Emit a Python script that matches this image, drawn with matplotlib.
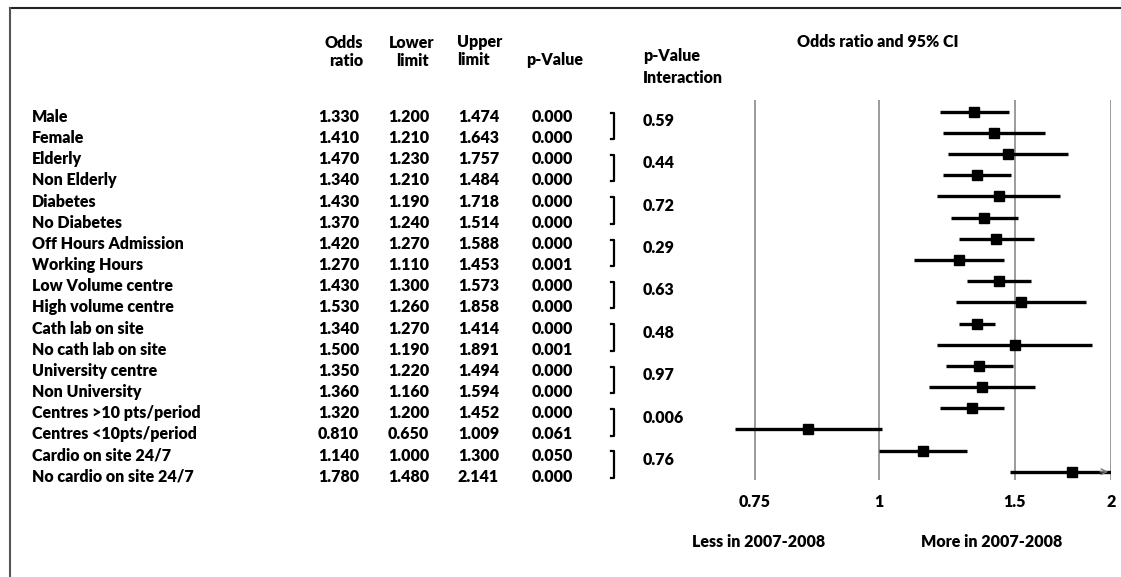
import numpy as np
import matplotlib.pyplot as plt
from matplotlib import transforms
from matplotlib.lines import Line2D

plt.rcParams['font.family'] = ['Lato', 'DejaVu Sans']
plt.rcParams['font.weight'] = 'heavy'

labels = ["Male", "Female", "Elderly", "Non Elderly", "Diabetes", "No Diabetes",
          "Off Hours Admission", "Working Hours", "Low Volume centre",
          "High volume centre", "Cath lab on site", "No cath lab on site",
          "University centre", "Non University", "Centres >10 pts/period",
          "Centres <10pts/period", "Cardio on site 24/7", "No cardio on site 24/7"]
odds = [1.330, 1.410, 1.470, 1.340, 1.430, 1.370, 1.420, 1.270, 1.430,
        1.530, 1.340, 1.500, 1.350, 1.360, 1.320, 0.810, 1.140, 1.780]
lower = [1.200, 1.210, 1.230, 1.210, 1.190, 1.240, 1.270, 1.110, 1.300,
         1.260, 1.270, 1.190, 1.220, 1.160, 1.200, 0.650, 1.000, 1.480]
upper = [1.474, 1.643, 1.757, 1.484, 1.718, 1.514, 1.588, 1.453, 1.573,
         1.858, 1.414, 1.891, 1.494, 1.594, 1.452, 1.009, 1.300, 2.141]
pvals = ["0.000", "0.000", "0.000", "0.000", "0.000", "0.000", "0.000", "0.001", "0.000",
         "0.000", "0.000", "0.001", "0.000", "0.000", "0.000", "0.061", "0.050", "0.000"]
p_inter = ["0.59", "0.44", "0.72", "0.29", "0.63", "0.48", "0.97", "0.006", "0.76"]
ticks = [0.69, 1, 1.5, 2]
tick_labels = ["0.75", "1", "1.5", "2"]

W, H = 1121, 577
fig = plt.figure(figsize=(W / 100, H / 100), dpi=100)

def fx(px):
    return px / W

def fy(py):
    return 1 - py / H

# forest axes, log scale
xmin, xmax = 0.6, 2.0
ax_left, ax_right = 708, 1111
ax_top, ax_bot = 100, 480
ax = fig.add_axes([fx(ax_left), fy(ax_bot), (ax_right - ax_left) / W, (ax_bot - ax_top) / H])
ax.set_xscale('log')
ax.set_xlim(xmin, xmax)
n = len(labels)
row0, drow = 111.7, 21.18
ax.set_ylim((ax_bot - row0) / drow, (ax_top - row0) / drow)
for s in ax.spines.values():
    s.set_visible(False)
ax.set_yticks([])
ax.set_xticks(ticks)
ax.set_xticks([], minor=True)
ax.set_xticklabels(tick_labels, fontsize=11.5, fontweight='heavy')
ax.tick_params(axis='x', length=0, pad=10)
for t in ticks:
    ax.axvline(t, color='#8a8a8a', lw=1.2, zorder=1)

rows = np.arange(n)
for i in rows:
    hi = min(upper[i], xmax)
    ax.plot([lower[i], hi], [i, i], color='black', lw=2.4, solid_capstyle='butt', zorder=3)
    if upper[i] > xmax:
        ax.annotate('', xy=(xmax, i), xytext=(xmax * 0.96, i),
                    arrowprops=dict(arrowstyle='->', color='#777777', lw=1.0), zorder=4)
ax.plot(odds, rows, 's', color='black', markersize=7.5, zorder=5)

# table text in figure-x / data-y coordinates
tr = transforms.blended_transform_factory(fig.transFigure, ax.transData)
toff = 0.24
fs = 11.5
for i in rows:
    y = i + toff
    ax.text(fx(32), y, labels[i], transform=tr, ha='left', va='center', fontsize=fs, clip_on=False)
    ax.text(fx(359), y, f"{odds[i]:.3f}", transform=tr, ha='right', va='center', fontsize=fs, clip_on=False)
    ax.text(fx(429), y, f"{lower[i]:.3f}", transform=tr, ha='right', va='center', fontsize=fs, clip_on=False)
    ax.text(fx(499), y, f"{upper[i]:.3f}", transform=tr, ha='right', va='center', fontsize=fs, clip_on=False)
    ax.text(fx(573), y, pvals[i], transform=tr, ha='right', va='center', fontsize=fs, clip_on=False)

# brackets and interaction p-values
for k, p in enumerate(p_inter):
    r = 2 * k
    y1, y2 = r + toff - 0.2, r + 1 + toff + 0.05
    bx = fx(614)
    ax.add_line(Line2D([bx - fx(3), bx, bx, bx - fx(3)], [y1, y1, y2, y2], transform=tr,
                       color='black', lw=1.6, clip_on=False))
    ax.text(fx(643), r + toff + 0.2, p, transform=tr, ha='left', va='center', fontsize=fs, clip_on=False)

# headers
fig.text(fx(363), fy(52), "Odds\nratio", ha='right', va='center', multialignment='right',
         fontsize=fs, linespacing=1.15)
fig.text(fx(412), fy(52), "Lower\nlimit", ha='center', va='center', multialignment='center',
         fontsize=fs, linespacing=1.15)
fig.text(fx(457), fy(51), "Upper\nlimit", ha='left', va='center', multialignment='left',
         fontsize=fs, linespacing=1.15)
fig.text(fx(555), fy(60), "p-Value", ha='center', va='center', fontsize=fs)
fig.text(fx(643), fy(67), "p-Value\nInteraction", ha='left', va='center', fontsize=fs, linespacing=1.4)
fig.text(fx(878), fy(42), "Odds ratio and 95% CI", ha='center', va='center', fontsize=fs)
fig.text(fx(759), fy(542), "Less in 2007-2008", ha='center', va='center', fontsize=fs)
fig.text(fx(992), fy(542), "More in 2007-2008", ha='center', va='center', fontsize=fs)

# partial frame
fig.add_artist(Line2D([fx(10), 1], [fy(8), fy(8)], color='#222222', lw=1.5))
fig.add_artist(Line2D([fx(10), fx(10)], [fy(8), 0], color='#555555', lw=1.5))

fig.savefig('out.png', dpi=100)
